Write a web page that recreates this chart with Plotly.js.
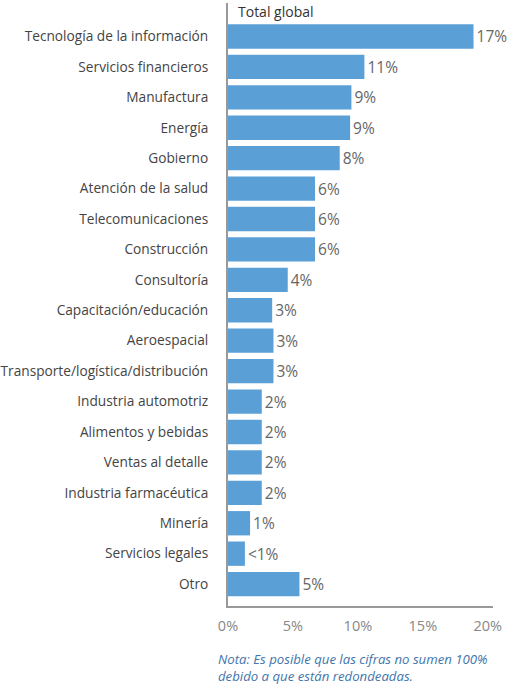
<!DOCTYPE html>
<html><head><meta charset="utf-8">
<script src="https://cdn.plot.ly/plotly-3.0.1.min.js"></script>
<style>html,body{margin:0;padding:0;background:#fff}#chart{width:510px;height:687px}</style>
</head><body><div id="chart"></div>
<script>
const categories = ["Tecnología de la información","Servicios financieros","Manufactura","Energía","Gobierno","Atención de la salud","Telecomunicaciones","Construcción","Consultoría","Capacitación/educación","Aeroespacial","Transporte/logística/distribución","Industria automotriz","Alimentos y bebidas","Ventas al detalle","Industria farmacéutica","Minería","Servicios legales","Otro"];
const values = [18.9,10.5,9.5,9.4,8.6,6.7,6.7,6.7,4.6,3.4,3.5,3.5,2.6,2.6,2.6,2.6,1.7,1.3,5.5];
const valueLabels = ["17%","11%","9%","9%","8%","6%","6%","6%","4%","3%","3%","3%","2%","2%","2%","2%","1%","<1%","5%"];
const tickVals = [0,5,10,15,20];
const tickText = ["0%","5%","10%","15%","20%"];
const seriesName = "Total global";
const note = "Nota: Es posible que las cifras no sumen 100%<br>debido a que están redondeadas.";

const F = "Open Sans, sans-serif";
Plotly.newPlot("chart", [{
  type: "bar", orientation: "h",
  x: values, y: categories, name: seriesName,
  text: valueLabels, textposition: "outside", cliponaxis: false,
  textfont: {family: F, size: 15.5, color: "#666"},
  marker: {color: "#5b9fd7"},
  hoverinfo: "none"
}], {
  width: 510, height: 687,
  margin: {l: 228, r: 17, t: 3, b: 81},
  paper_bgcolor: "#fff", plot_bgcolor: "#fff",
  bargap: 0.2, showlegend: false,
  xaxis: {range: [0, 20.4], tickvals: tickVals, ticktext: tickText, showgrid: false, zeroline: false,
    showline: true, linecolor: "#999", linewidth: 2, ticks: "", ticklabelstandoff: 6,
    tickfont: {family: F, size: 14.5, color: "#888"}, fixedrange: true},
  yaxis: {type: "category", range: [18.72, -1.1], showgrid: false, zeroline: false,
    showline: true, linecolor: "#999", linewidth: 2, ticks: "", ticklabelstandoff: 15,
    tickfont: {family: F, size: 13.7, color: "#444"}, fixedrange: true},
  annotations: [
    {text: seriesName, xref: "paper", yref: "paper", x: 0, y: 1, xanchor: "left", yanchor: "top",
     xshift: 8, yshift: 3, showarrow: false, font: {family: F, size: 14, color: "#333"}},
    {text: "<i>" + note + "</i>", xref: "paper", yref: "paper", x: 0, y: 0, xanchor: "left", yanchor: "top",
     xshift: -12, yshift: -42, align: "left", showarrow: false, font: {family: F, size: 13.2, color: "#4275ab"}}
  ]
}, {displayModeBar: false, staticPlot: true});
</script></body></html>
